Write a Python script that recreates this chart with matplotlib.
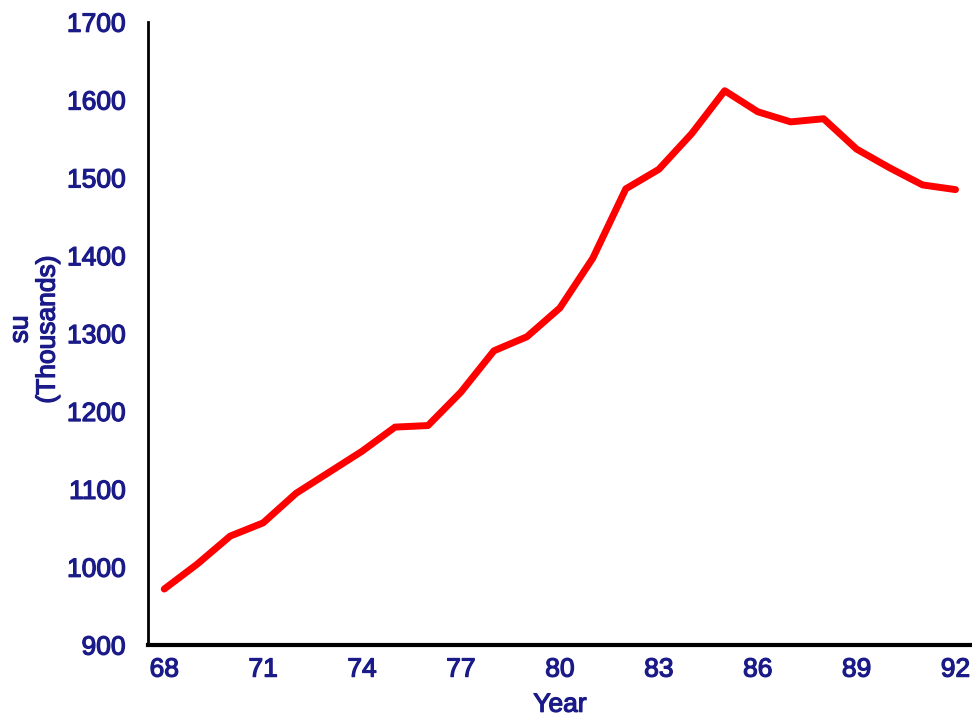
import matplotlib
matplotlib.use("Agg")
import matplotlib.pyplot as plt
import matplotlib.patheffects as pe

# ── Data ───────────────────────────────────────────────────────────────────
years = [68, 69, 70, 71, 72, 73, 74, 75, 76, 77, 78, 79, 80,
         81, 82, 83, 84, 85, 86, 87, 88, 89, 90, 91, 92]
values = [972, 1004, 1040, 1057, 1095, 1122, 1149, 1180, 1182, 1225, 1278, 1296, 1333,
          1397, 1486, 1511, 1557, 1612, 1585, 1572, 1576, 1537, 1513, 1491, 1485]
xticks = [68, 71, 74, 77, 80, 83, 86, 89, 92]
yticks = [900, 1000, 1100, 1200, 1300, 1400, 1500, 1600, 1700]

NAVY = "#1a1a88"
# slight stroke to mimic the medium-weight text of the original
THICK = [pe.withStroke(linewidth=0.9, foreground=NAVY)]

plt.rcParams.update({
    "font.family": ["Liberation Sans", "DejaVu Sans"],
    "font.size": 19,
})

fig = plt.figure(figsize=(9.72, 7.16), dpi=100)
ax = fig.add_axes([0.152, 0.099, 0.848, 0.870])

ax.plot(years, values, color="#ff0000", linewidth=5, solid_capstyle="round")

ax.set_xlim(67.5, 92.5)
ax.set_ylim(900, 1700)
ax.set_xticks(xticks)
ax.set_yticks(yticks)
ax.tick_params(length=0, labelcolor=NAVY, labelsize=19)
ax.tick_params(axis="y", pad=16)
ax.tick_params(axis="x", pad=9)
for lbl in ax.get_xticklabels() + ax.get_yticklabels():
    lbl.set_path_effects(THICK)

for side in ("top", "right"):
    ax.spines[side].set_visible(False)
ax.spines["left"].set_linewidth(2)
ax.spines["bottom"].set_linewidth(3)

ax.set_xlabel("Year", color=NAVY, fontsize=19, labelpad=8, path_effects=THICK)
fig.text(0.021, 0.54, "su", rotation=90, color=NAVY, fontsize=19,
         ha="center", va="center", path_effects=THICK)
fig.text(0.049, 0.54, "(Thousands)", rotation=90, color=NAVY, fontsize=19,
         ha="center", va="center", path_effects=THICK)

fig.savefig("out.png", dpi=100)
